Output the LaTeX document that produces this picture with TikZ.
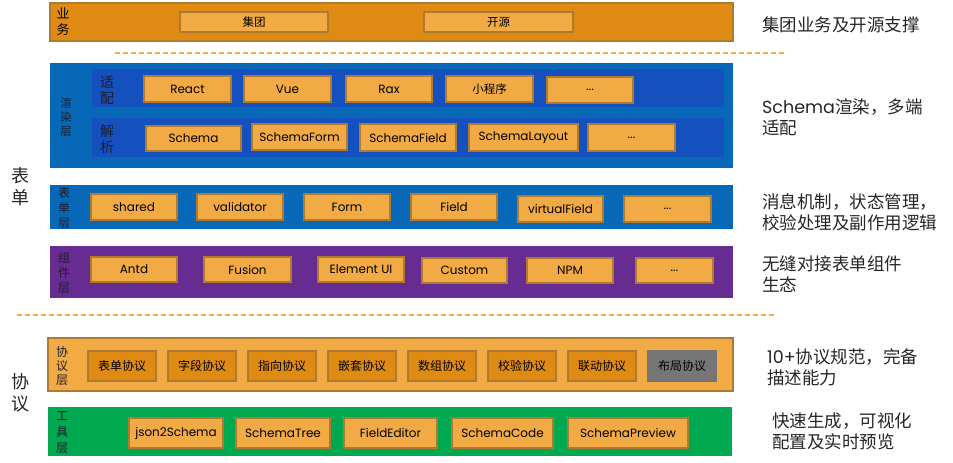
\documentclass[tikz,border=0pt]{standalone}
\usepackage{fontspec}
\setmainfont{Noto Sans CJK SC}
\newfontfamily\lat{Poppins}
\definecolor{bizfill}{HTML}{DF8A12}
\definecolor{boxfill}{HTML}{F2AB44}
\definecolor{boxline}{HTML}{AE7A30}
\definecolor{blueouter}{HTML}{0868B8}
\definecolor{blueband}{HTML}{1450BE}
\definecolor{purplebar}{HTML}{662C91}
\definecolor{greenbar}{HTML}{00A84F}
\definecolor{graybox}{HTML}{767676}
\definecolor{labeltxt}{HTML}{1E1E2A}
\begin{document}
\begin{tikzpicture}[x=1pt,y=-1pt,
  bar/.style={inner sep=0pt, outer sep=0pt},
  bizbar/.style={bar, fill=bizfill, draw=boxline, line width=1.8pt},
  bluebar/.style={bar, fill=blueouter},
  bandbar/.style={bar, fill=blueband},
  purplebarst/.style={bar, fill=purplebar},
  protobar/.style={bar, fill=boxfill, draw=boxline, line width=1.8pt},
  greenbarst/.style={bar, fill=greenbar},
  box/.style={bar, fill=boxfill, draw=boxline, line width=1.8pt, text=black, font=\lat\fontsize{12}{12}\selectfont},
  cbox/.style={box, font=\fontsize{11.5}{12}\selectfont},
  pbox/.style={bar, fill=bizfill, draw=boxline, line width=1.8pt, text=black, font=\fontsize{12}{12}\selectfont},
  gbox/.style={bar, fill=graybox, text=black, font=\fontsize{12}{12}\selectfont},
  vlab/.style={inner sep=0pt, align=center, text=labeltxt, font=\fontsize{11}{14}\selectfont},
  blab/.style={inner sep=0pt, align=center, text=labeltxt, font=\fontsize{14}{16}\selectfont},
  biglab/.style={inner sep=0pt, align=center, text=black!85, font=\fontsize{18}{22}\selectfont},
  rtext/.style={inner sep=0pt, anchor=west, align=left, text=black!85, font=\fontsize{17.5}{21}\selectfont},
  dashline/.style={draw=boxfill, line width=2pt, dash pattern=on 5pt off 3pt}
]
\useasboundingbox (0,0) rectangle (953,463);
\newcommand\bx[7][box]{\node[#1, minimum width={#5-#3}, minimum height={#6-#4}] (#2) at ({(#3+#5)/2},{(#4+#6)/2}) {#7};}

% business bar
\bx[bizbar]{biz}{50}{3}{733}{41}{}
\node[vlab, text=black, font=\fontsize{13}{16}\selectfont] (bizlab) at (63,22) {业\\务};
\bx[cbox]{jt}{180}{12}{328}{32}{集团}
\bx[cbox]{ky}{424}{12}{573}{32}{开源}

\coordinate (d1a) at (115,53);
\coordinate (d1b) at (787,53);
\draw[dashline] (d1a) -- (d1b);

% render layer
\bx[bluebar]{render}{50}{63}{733}{168}{}
\node[vlab, font=\fontsize{11.5}{14}\selectfont] (renderlab) at (66,117) {渲\\染\\层};
\bx[bandbar]{adapt}{92}{69}{724}{107}{}
\bx[bandbar]{parse}{92}{118}{724}{157}{}
\node[blab] (adaptlab) at (107,90) {适\\配};
\node[blab] (parselab) at (107,139) {解\\析};
\bx{react}{144}{76}{231}{102}{React}
\bx{vue}{244}{76}{331}{102}{Vue}
\bx{rax}{346}{76}{432}{102}{Rax}
\bx[cbox]{mini}{446}{76}{533}{102}{小程序}
\bx{adots}{547}{77}{633}{103}{...}
\bx{schema}{146}{126}{241}{151}{Schema}
\bx{sform}{252}{124}{347}{150}{SchemaForm}
\bx{sfield}{360}{124}{456}{151}{SchemaField}
\bx{slayout}{469}{124}{578}{151}{SchemaLayout}
\bx{pdots}{588}{124}{675}{151}{...}

% form layer
\bx[bluebar]{formlayer}{50}{185}{733}{229}{}
\node[vlab, font=\fontsize{12}{15}\selectfont] (formlab) at (64,208) {表\\单\\层};
\bx{shared}{91}{194}{177}{220}{shared}
\bx{validator}{197}{194}{283}{220}{validator}
\bx{form}{304}{194}{390}{220}{Form}
\bx{field}{411}{194}{497}{220}{Field}
\bx{vfield}{518}{196}{603}{222}{virtualField}
\bx{fdots}{624}{196}{711}{222}{...}

% component layer
\bx[purplebarst]{complayer}{50}{246}{733}{298}{}
\node[vlab, font=\fontsize{12}{15}\selectfont] (complab) at (64,273) {组\\件\\层};
\bx{antd}{91}{257}{177}{282}{Antd}
\bx{fusion}{204}{257}{291}{282}{Fusion}
\bx{element}{318}{257}{404}{282}{Element UI}
\bx{custom}{422}{258}{507}{283}{Custom}
\bx{npm}{527}{258}{613}{283}{NPM}
\bx{cdots}{636}{258}{713}{283}{...}

\coordinate (d2a) at (17,315);
\coordinate (d2b) at (775,315);
\draw[dashline] (d2a) -- (d2b);

% protocol layer
\bx[protobar]{protolayer}{48}{338}{733}{391}{}
\node[vlab, font=\fontsize{12}{14}\selectfont] (protolab) at (62,366) {协\\议\\层};
\bx[pbox]{p1}{88}{351}{156}{381}{表单协议}
\bx[pbox]{p2}{168}{351}{236}{381}{字段协议}
\bx[pbox]{p3}{248}{351}{316}{381}{指向协议}
\bx[pbox]{p4}{328}{351}{396}{381}{嵌套协议}
\bx[pbox]{p5}{408}{351}{476}{381}{数组协议}
\bx[pbox]{p6}{488}{351}{556}{381}{校验协议}
\bx[pbox]{p7}{568}{351}{636}{381}{联动协议}
\bx[gbox]{p8}{647}{350}{717}{382}{布局协议}

% tool layer
\bx[greenbarst]{toollayer}{48}{407}{732}{456}{}
\node[vlab, font=\fontsize{12}{16}\selectfont] (toollab) at (62,433) {工\\具\\层};
\bx{json}{129}{418}{223}{448}{json2Schema}
\bx{stree}{236}{418}{330}{448}{SchemaTree}
\bx{feditor}{344}{418}{437}{448}{FieldEditor}
\bx{scode}{452}{418}{553}{448}{SchemaCode}
\bx{spreview}{568}{418}{688}{448}{SchemaPreview}

% left big labels
\node[biglab] (formbig) at (21,187) {表\\单};
\node[biglab] (protobig) at (21,393) {协\\议};

% right descriptions
\node[rtext] (r1) at (762,25) {集团业务及开源支撑};
\node[rtext] (r2) at (762,117) {{\lat Schema}渲染，多端\\适配};
\node[rtext] (r3) at (762,212) {消息机制，状态管理，\\校验处理及副作用逻辑};
\node[rtext] (r4) at (762,274) {无缝对接表单组件\\生态};
\node[rtext] (r5) at (767,367) {{\lat 10+}协议规范，完备\\描述能力};
\node[rtext] (r6) at (772,431) {快速生成，可视化\\配置及实时预览};
\end{tikzpicture}
\end{document}
